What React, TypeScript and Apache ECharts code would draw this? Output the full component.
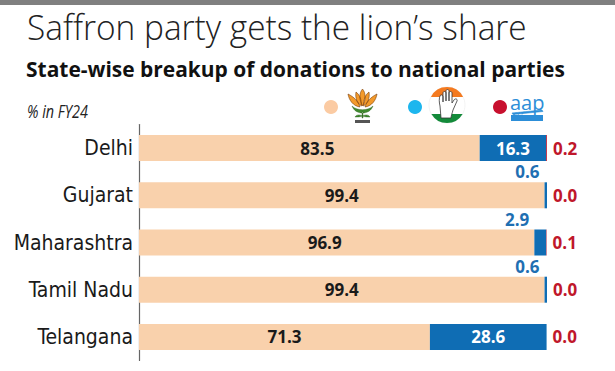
import React, { useEffect, useRef } from "react";
import * as echarts from "echarts";

const categories = ["Delhi", "Gujarat", "Maharashtra", "Tamil Nadu", "Telangana"];
const bjpShare = [83.5, 99.4, 96.9, 99.4, 71.3];
const incShare = [16.3, 0.6, 2.9, 0.6, 28.6];
const aapShare = [0.2, 0.0, 0.1, 0.0, 0.0];
const smallIncLabel = [false, true, true, true, false];
const bjpLabelShift = [8, 0, -12, 0, 0];

const TITLE = "Saffron party gets the lion\u2019s share";
const SUBTITLE = "State-wise breakup of donations to national parties";
const UNIT = "% in FY24";

const PEACH = "#F9D1AC";
const BLUE = "#0F6DB4";
const BLUE_TEXT = "#1F6FB2";
const RED = "#C0172B";

let shapesRegistered = false;
function registerShapes() {
  if (shapesRegistered) return;
  shapesRegistered = true;
  const g: any = (echarts as any).graphic;
  g.registerShape(
    "lotusPetals",
    g.extendPath(
      "M17.5 1 C21 5 21 12 17.5 18 C14 12 14 5 17.5 1 Z " +
        "M11 4 C15 7 16.5 12 16.5 18 C12 15 10 10 11 4 Z " +
        "M24 4 C20 7 18.5 12 18.5 18 C23 15 25 10 24 4 Z " +
        "M3 6 C9 9 13 13 15 19 C8 18 4 12 3 6 Z " +
        "M32 6 C26 9 22 13 20 19 C27 18 31 12 32 6 Z",
      {}
    )
  );
  g.registerShape(
    "lotusBase",
    g.extendPath(
      "M7 18 C12 23 23 23 28 18 C26 23 22 25 17.5 25 C13 25 9 23 7 18 Z " +
        "M17 24 L17 30 L18 30 L18 24 Z " +
        "M17.5 28 C14 26 11 27 10 29 C13 29 15 29 17.5 28 Z " +
        "M17.5 28 C21 26 24 27 25 29 C22 29 20 29 17.5 28 Z",
      {}
    )
  );
  g.registerShape("incTop", g.extendPath("M1.9 10 A18 18 0 0 1 34.1 10 Z", {}));
  g.registerShape("incBottom", g.extendPath("M2.4 27 A18 18 0 0 0 33.6 27 Z", {}));
  g.registerShape(
    "incHand",
    g.extendPath(
      "M12 31 L11 19 C10 15 10 11 11 9 C12 7 14 8 14 10 L14 15 L14 6 C14 4 17 4 17 6 L17 14 L17 4 C17 2 20 2 20 4 L20 14 L20 6 C20 4 23 4 23 6 L23 16 L25 13 C26 11 29 12 28 14 L24 23 C23 27 22 29 22 31 Z",
      {}
    )
  );
  g.registerShape(
    "broom",
    g.extendPath("M0 3 L30 0 L31 1.5 L1 4.5 Z M4 2.5 L2 5 M8 2 L6 5 M12 1.6 L10 4.6", {})
  );
}

function fitScale(text: string, font: string, target: number): number {
  const ctx = document.createElement("canvas").getContext("2d");
  if (!ctx) return 1;
  ctx.font = font;
  const w = ctx.measureText(text).width;
  return w > 0 ? target / w : 1;
}

export default function App() {
  const ref = useRef<HTMLDivElement>(null);

  useEffect(() => {
    if (!ref.current) return;
    registerShapes();
    const chart = echarts.init(ref.current, undefined, { renderer: "svg" });

    const titleScale = fitScale(TITLE, '300 34px "Open Sans"', 500);
    const subScale = fitScale(SUBTITLE, '700 21px "Open Sans"', 539);

    const labelFont = '"Liberation Sans Narrow", "DejaVu Sans Condensed", Roboto, sans-serif';
    const valueFont = '"Open Sans", Roboto, sans-serif';

    const option: any = {
      animation: false,
      backgroundColor: "#ffffff",
      grid: { left: 139, top: 124.5, width: 408, height: 236, containLabel: false },
      xAxis: { type: "value", min: 0, max: 100, show: false },
      yAxis: {
        type: "category",
        data: categories,
        inverse: true,
        axisLine: { show: true, lineStyle: { color: "#666666", width: 1.2 } },
        axisTick: { show: false },
        splitLine: { show: false },
        axisLabel: {
          margin: 6,
          fontFamily: labelFont,
          fontSize: 21,
          color: "#1a1a1a",
        },
      },
      series: [
        {
          name: "BJP",
          type: "bar",
          stack: "share",
          barWidth: 26,
          itemStyle: { color: PEACH },
          data: bjpShare.map((v, i) => ({
            value: v,
            label: { offset: [bjpLabelShift[i], 0] },
          })),
          label: {
            show: true,
            position: "inside",
            fontFamily: valueFont,
            fontWeight: 700,
            fontSize: 17,
            color: "#1a1a1a",
            formatter: (p: any) => Number(p.value).toFixed(1),
          },
        },
        {
          name: "INC",
          type: "bar",
          stack: "share",
          barWidth: 26,
          itemStyle: { color: BLUE },
          data: incShare.map((v, i) =>
            smallIncLabel[i]
              ? {
                  value: v,
                  label: {
                    position: [-5, -2],
                    align: "right",
                    verticalAlign: "bottom",
                    color: BLUE_TEXT,
                  },
                }
              : { value: v }
          ),
          label: {
            show: true,
            position: "inside",
            fontFamily: valueFont,
            fontWeight: 700,
            fontSize: 17,
            color: "#ffffff",
            formatter: (p: any) => Number(p.value).toFixed(1),
          },
        },
        {
          name: "AAP",
          type: "bar",
          stack: "share",
          barWidth: 26,
          itemStyle: { color: RED },
          data: aapShare,
          label: {
            show: true,
            position: "right",
            distance: 6,
            fontFamily: valueFont,
            fontWeight: 700,
            fontSize: 17,
            color: RED,
            formatter: (p: any) => Number(p.value).toFixed(1),
          },
        },
      ],
      graphic: [
        { type: "rect", left: 0, top: 0, shape: { x: 0, y: 0, width: 615, height: 5 }, style: { fill: "#808080" } },
        {
          type: "text",
          x: 27,
          y: 27,
          scaleX: titleScale,
          style: {
            text: TITLE,
            fontFamily: "Open Sans",
            fontWeight: 300,
            fontSize: 34,
            fill: "#222222",
            verticalAlign: "middle",
            align: "left",
          },
        },
        {
          type: "text",
          x: 26,
          y: 68.5,
          scaleX: subScale,
          style: {
            text: SUBTITLE,
            fontFamily: "Open Sans",
            fontWeight: 700,
            fontSize: 21,
            fill: "#111111",
            verticalAlign: "middle",
            align: "left",
          },
        },
        {
          type: "text",
          x: 27,
          y: 111,
          scaleX: 0.8,
          style: {
            text: UNIT,
            fontFamily: "Open Sans",
            fontStyle: "italic",
            fontSize: 18,
            fill: "#222222",
            verticalAlign: "middle",
            align: "left",
          },
        },
        // legend dots
        { type: "circle", shape: { cx: 331, cy: 107, r: 7 }, style: { fill: "#FBCBA3" } },
        { type: "circle", shape: { cx: 415, cy: 107, r: 7 }, style: { fill: "#1DB6EE" } },
        { type: "circle", shape: { cx: 500, cy: 107, r: 7 }, style: { fill: "#C8102E" } },
        // BJP lotus
        { type: "lotusBase", x: 345, y: 88, style: { fill: "#3F8A2E", stroke: "#2E5E20", lineWidth: 0.4 } },
        { type: "lotusPetals", x: 345, y: 88, style: { fill: "#F39A2B", stroke: "#7A3E0A", lineWidth: 0.6 } },
        { type: "rect", shape: { x: 355, y: 120, width: 15, height: 3 }, style: { fill: "#555555" } },
        // Congress
        { type: "circle", shape: { cx: 447, cy: 105, r: 18 }, style: { fill: "#ffffff", stroke: "#e6e6e6", lineWidth: 0.5 } },
        { type: "incTop", x: 429, y: 87, style: { fill: "#F47A20" } },
        { type: "incBottom", x: 429, y: 87, style: { fill: "#138A3A" } },
        { type: "incHand", x: 429, y: 87, style: { fill: "#ffffff", stroke: "#333333", lineWidth: 0.8 } },
        // AAP
        {
          type: "text",
          x: 510,
          y: 102,
          style: {
            text: "aap",
            fontFamily: "Open Sans",
            fontSize: 20,
            fill: "#2C8ED8",
            verticalAlign: "middle",
            align: "left",
          },
        },
        { type: "broom", x: 512, y: 110, style: { fill: "#2C8ED8", stroke: "#2C8ED8", lineWidth: 0.6 } },
        { type: "rect", shape: { x: 511, y: 115, width: 32, height: 6 }, style: { fill: "#2C8ED8" } },
      ],
    };

    chart.setOption(option);
    return () => {
      chart.dispose();
    };
  }, []);

  return (
    <div
      ref={ref}
      style={{ position: "fixed", left: 0, top: 0, width: 615, height: 371, background: "#ffffff" }}
    />
  );
}
